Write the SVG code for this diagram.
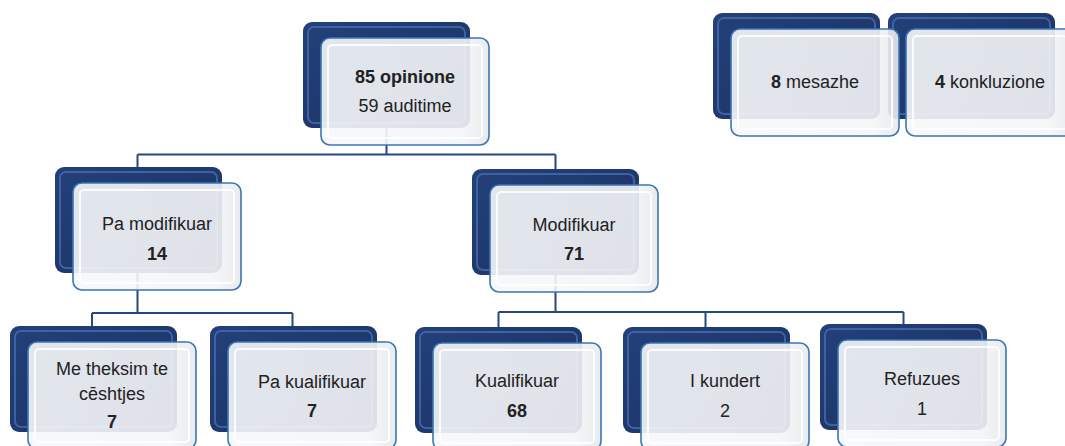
<svg xmlns="http://www.w3.org/2000/svg" width="1065" height="446" viewBox="0 0 1065 446">
<defs>
<linearGradient id="gBack" x1="0" y1="0" x2="1" y2="1">
<stop offset="0" stop-color="#23407a"/>
<stop offset="1" stop-color="#1b3263"/>
</linearGradient>
<linearGradient id="gFront" x1="0" y1="0" x2="1" y2="0">
<stop offset="0" stop-color="#f7f8fa"/>
<stop offset="0.85" stop-color="#f4f5f7"/>
<stop offset="1" stop-color="#e6e8eb"/>
</linearGradient>
</defs>
<style>
.back{fill:url(#gBack);}
.backhi{fill:none;stroke:#4a6fb0;stroke-width:2;opacity:0.75;}
.front{fill:url(#gFront);fill-opacity:0.9;stroke:#3b76b2;stroke-width:1.6;}
.bevel{fill:none;stroke:#ffffff;stroke-width:2;opacity:0.85;}
.conn{fill:none;stroke:#274780;stroke-width:2;}
text{font-family:"Liberation Sans",Arial,sans-serif;font-size:18px;fill:#222;text-anchor:middle;}
.b{font-weight:bold;}
</style>
<rect width="1065" height="446" fill="#ffffff"/>
<g id="connectors">
<path class="conn" d="M386.5 127 V154.5 M137.5 154.5 H555.5 M137.5 154.5 V167 M555.5 154.5 V169"/>
<path class="conn" d="M137.5 273 V313 M92 313 H292.5 M92 313 V326 M292.5 313 V326"/>
<path class="conn" d="M555.5 275 V312 M498.5 312 H903.5 M498.5 312 V327 M705.5 312 V327 M903.5 312 V324"/>
</g>
<g id="node-root" transform="translate(303,22)">
<rect class="back" width="167" height="106" rx="9"/>
<rect class="backhi" x="5" y="5" width="157" height="96" rx="6"/>
<rect class="front" x="18" y="16" width="168" height="107" rx="9"/>
<rect class="bevel" x="25" y="23" width="154" height="93" rx="4"/>
<text x="102" y="61" class="b">85 opinione</text>
<text x="102" y="90">59 auditime</text>
</g>
<g id="node-konkluzione" transform="translate(888,13)">
<rect class="back" width="167" height="106" rx="9"/>
<rect class="backhi" x="5" y="5" width="157" height="96" rx="6"/>
<rect class="front" x="18" y="16" width="168" height="107" rx="9"/>
<rect class="bevel" x="25" y="23" width="154" height="93" rx="4"/>
<text x="102" y="75"><tspan class="b">4</tspan> konkluzione</text>
</g>
<g id="node-mesazhe" transform="translate(713,13)">
<rect class="back" width="167" height="106" rx="9"/>
<rect class="backhi" x="5" y="5" width="157" height="96" rx="6"/>
<rect class="front" x="18" y="16" width="168" height="107" rx="9"/>
<rect class="bevel" x="25" y="23" width="154" height="93" rx="4"/>
<text x="102" y="75"><tspan class="b">8</tspan> mesazhe</text>
</g>
<g id="node-pa-modifikuar" transform="translate(55,167)">
<rect class="back" width="167" height="106" rx="9"/>
<rect class="backhi" x="5" y="5" width="157" height="96" rx="6"/>
<rect class="front" x="18" y="16" width="168" height="107" rx="9"/>
<rect class="bevel" x="25" y="23" width="154" height="93" rx="4"/>
<text x="102" y="63">Pa modifikuar</text>
<text x="102" y="93" class="b">14</text>
</g>
<g id="node-modifikuar" transform="translate(472,169)">
<rect class="back" width="167" height="106" rx="9"/>
<rect class="backhi" x="5" y="5" width="157" height="96" rx="6"/>
<rect class="front" x="18" y="16" width="168" height="107" rx="9"/>
<rect class="bevel" x="25" y="23" width="154" height="93" rx="4"/>
<text x="102" y="62">Modifikuar</text>
<text x="102" y="91" class="b">71</text>
</g>
<g id="node-me-theksim" transform="translate(10,326)">
<rect class="back" width="167" height="106" rx="9"/>
<rect class="backhi" x="5" y="5" width="157" height="96" rx="6"/>
<rect class="front" x="18" y="16" width="168" height="107" rx="9"/>
<rect class="bevel" x="25" y="23" width="154" height="93" rx="4"/>
<text x="102" y="49">Me theksim te</text>
<text x="102" y="74">cēshtjes</text>
<text x="102" y="102" class="b">7</text>
</g>
<g id="node-pa-kualifikuar" transform="translate(210,326)">
<rect class="back" width="167" height="106" rx="9"/>
<rect class="backhi" x="5" y="5" width="157" height="96" rx="6"/>
<rect class="front" x="18" y="16" width="168" height="107" rx="9"/>
<rect class="bevel" x="25" y="23" width="154" height="93" rx="4"/>
<text x="102" y="62">Pa kualifikuar</text>
<text x="102" y="91" class="b">7</text>
</g>
<g id="node-kualifikuar" transform="translate(415,327)">
<rect class="back" width="167" height="106" rx="9"/>
<rect class="backhi" x="5" y="5" width="157" height="96" rx="6"/>
<rect class="front" x="18" y="16" width="168" height="107" rx="9"/>
<rect class="bevel" x="25" y="23" width="154" height="93" rx="4"/>
<text x="102" y="60">Kualifikuar</text>
<text x="102" y="90" class="b">68</text>
</g>
<g id="node-i-kundert" transform="translate(623,327)">
<rect class="back" width="167" height="106" rx="9"/>
<rect class="backhi" x="5" y="5" width="157" height="96" rx="6"/>
<rect class="front" x="18" y="16" width="168" height="107" rx="9"/>
<rect class="bevel" x="25" y="23" width="154" height="93" rx="4"/>
<text x="102" y="60">I kundert</text>
<text x="102" y="90">2</text>
</g>
<g id="node-refuzues" transform="translate(820,324)">
<rect class="back" width="167" height="106" rx="9"/>
<rect class="backhi" x="5" y="5" width="157" height="96" rx="6"/>
<rect class="front" x="18" y="16" width="168" height="107" rx="9"/>
<rect class="bevel" x="25" y="23" width="154" height="93" rx="4"/>
<text x="102" y="61">Refuzues</text>
<text x="102" y="91">1</text>
</g>
</svg>
